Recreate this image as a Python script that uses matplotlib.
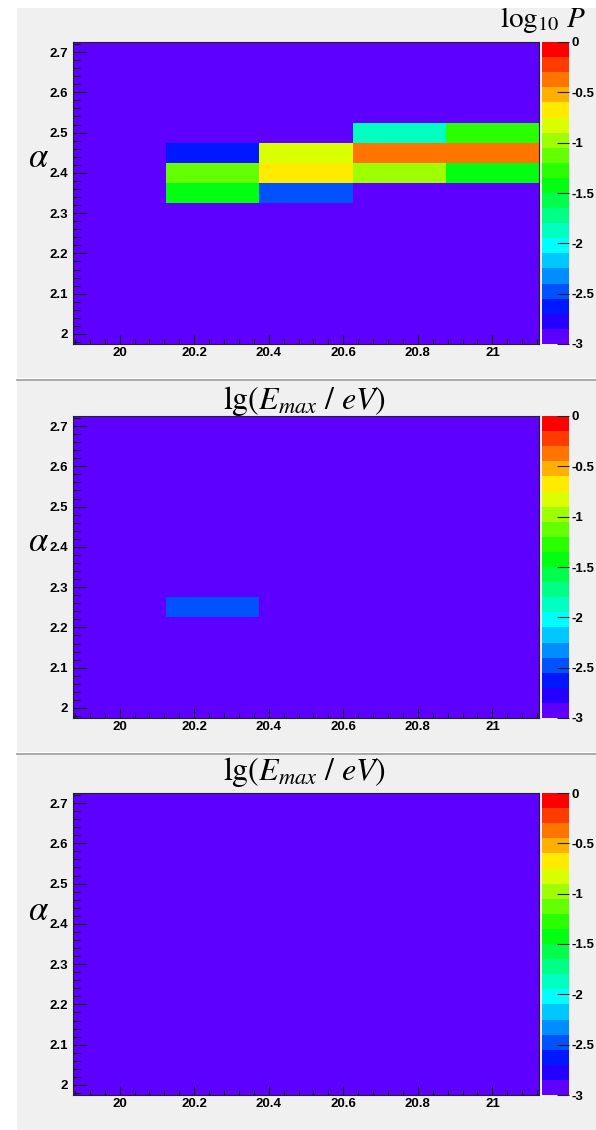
import matplotlib.pyplot as plt
import numpy as np
from matplotlib.colors import ListedColormap, BoundaryNorm, hsv_to_rgb
from matplotlib.patches import Rectangle
from matplotlib.lines import Line2D
from matplotlib.ticker import MultipleLocator, FuncFormatter

plt.rcParams['mathtext.fontset'] = 'stix'
plt.rcParams['axes.unicode_minus'] = False

# bin centres of the 2D histograms
lg_emax = [20.0, 20.25, 20.5, 20.75, 21.0]
alpha = [2.0, 2.05, 2.1, 2.15, 2.2, 2.25, 2.3, 2.35, 2.4, 2.45, 2.5, 2.55, 2.6, 2.65, 2.7]
e_step = 0.25
a_step = 0.05

# empty bins sit at the bottom of the colour scale
logp_floor = -3.0

# filled bins, one set of lists per panel
top_e = [20.25, 20.25, 20.25, 20.5, 20.5, 20.5, 20.75, 20.75, 20.75, 21.0, 21.0, 21.0]
top_a = [2.45, 2.4, 2.35, 2.45, 2.4, 2.35, 2.5, 2.45, 2.4, 2.5, 2.45, 2.4]
top_logp = [-2.6, -1.2, -1.4, -0.8, -0.7, -2.5, -1.9, -0.4, -1.0, -1.3, -0.4, -1.4]

mid_e = [20.25]
mid_a = [2.25]
mid_logp = [-2.5]

bot_e = []
bot_a = []
bot_logp = []

cbar_ticks = [0, -0.5, -1, -1.5, -2, -2.5, -3]
cbar_labels = ['0', '-0.5', '-1', '-1.5', '-2', '-2.5', '-3']

# 20 contour levels, rainbow from violet to red
levels = np.linspace(-3, 0, 21)
hues = np.linspace(262, 0, 20) / 360.0
colors = hsv_to_rgb(np.column_stack([hues, np.ones(20), np.ones(20)]))
cmap = ListedColormap(colors)
norm = BoundaryNorm(levels, cmap.N)

e_edges = np.append(np.array(lg_emax) - e_step / 2, lg_emax[-1] + e_step / 2)
a_edges = np.append(np.array(alpha) - a_step / 2, alpha[-1] + a_step / 2)


def make_grid(es, als, vals):
    z = np.full((len(alpha), len(lg_emax)), logp_floor)
    for e, a, v in zip(es, als, vals):
        i = int(np.argmin(np.abs(np.array(alpha) - a)))
        j = int(np.argmin(np.abs(np.array(lg_emax) - e)))
        z[i, j] = v
    return z


W, H = 596, 1130
fig = plt.figure(figsize=(W / 100, H / 100), dpi=100, facecolor='white')

# grey pads with separating lines, kept behind the axes
for y0, y1 in [(8, 378), (381, 752), (755, 1130)]:
    fig.patches.append(Rectangle((17 / W, 1 - y1 / H), (W - 17) / W, (y1 - y0) / H,
                                 transform=fig.transFigure, facecolor='#f0f0f0',
                                 edgecolor='none', zorder=-10))
for yl in [379.5, 753.5]:
    fig.lines.append(Line2D([17 / W, 1], [1 - yl / H, 1 - yl / H], transform=fig.transFigure,
                            color='#9a9a9a', lw=1.2, zorder=-5))

fmt = FuncFormatter(lambda v, p: '%g' % round(v, 3))
tick_font = dict(family='Liberation Sans', weight='bold', size=9.5)

panels = [
    (42, make_grid(top_e, top_a, top_logp), 2.44),
    (416, make_grid(mid_e, mid_a, mid_logp), 2.415),
    (793, make_grid(bot_e, bot_a, bot_logp), 2.435),
]

for top, z, a_pos in panels:
    h = 302
    ax = fig.add_axes([73 / W, 1 - (top + h) / H, 466 / W, h / H])
    mesh = ax.pcolormesh(e_edges, a_edges, z, cmap=cmap, norm=norm)
    ax.set_xlim(e_edges[0], e_edges[-1])
    ax.set_ylim(a_edges[0], a_edges[-1])
    ax.xaxis.set_major_locator(MultipleLocator(0.2))
    ax.xaxis.set_minor_locator(MultipleLocator(0.04))
    ax.yaxis.set_major_locator(MultipleLocator(0.1))
    ax.yaxis.set_minor_locator(MultipleLocator(0.02))
    ax.xaxis.set_major_formatter(fmt)
    ax.yaxis.set_major_formatter(fmt)
    ax.tick_params(axis='x', which='major', direction='in', length=6.5, width=0.8, color='#111111', pad=2.5)
    ax.tick_params(axis='x', which='minor', direction='in', length=3.3, width=0.8, color='#111111')
    ax.tick_params(axis='y', which='major', direction='in', length=10, width=0.8, color='#111111', pad=3.5)
    ax.tick_params(axis='y', which='minor', direction='in', length=5, width=0.8, color='#111111')
    for lab in ax.get_xticklabels() + ax.get_yticklabels():
        lab.set_fontproperties(tick_font)
    for sp in ax.spines.values():
        sp.set_linewidth(0.8)
        sp.set_color('#222222')
    ax.text(-0.073, (a_pos - a_edges[0]) / (a_edges[-1] - a_edges[0]), r'$\alpha$',
            transform=ax.transAxes, ha='center', va='center', fontsize=25)

    cax = fig.add_axes([542 / W, 1 - (top + h) / H, 27 / W, h / H])
    cb = fig.colorbar(mesh, cax=cax, ticks=cbar_ticks)
    cb.outline.set_visible(False)
    cb.ax.minorticks_off()
    cb.set_ticklabels(cbar_labels)
    cax.tick_params(direction='in', length=9, width=0.8, color='#222222', pad=2)
    for lab in cax.get_yticklabels():
        lab.set_fontproperties(tick_font)

fig.text(543 / W, 1 - 20 / H, r'$\log_{10}\,P$', ha='center', va='center', fontsize=21)
for yc in [401, 772]:
    fig.text(305 / W, 1 - yc / H, r'$\mathrm{lg}(E_{max}\ /\ eV)$', ha='center', va='center',
             fontsize=23)

fig.savefig('out.png', dpi=100)
